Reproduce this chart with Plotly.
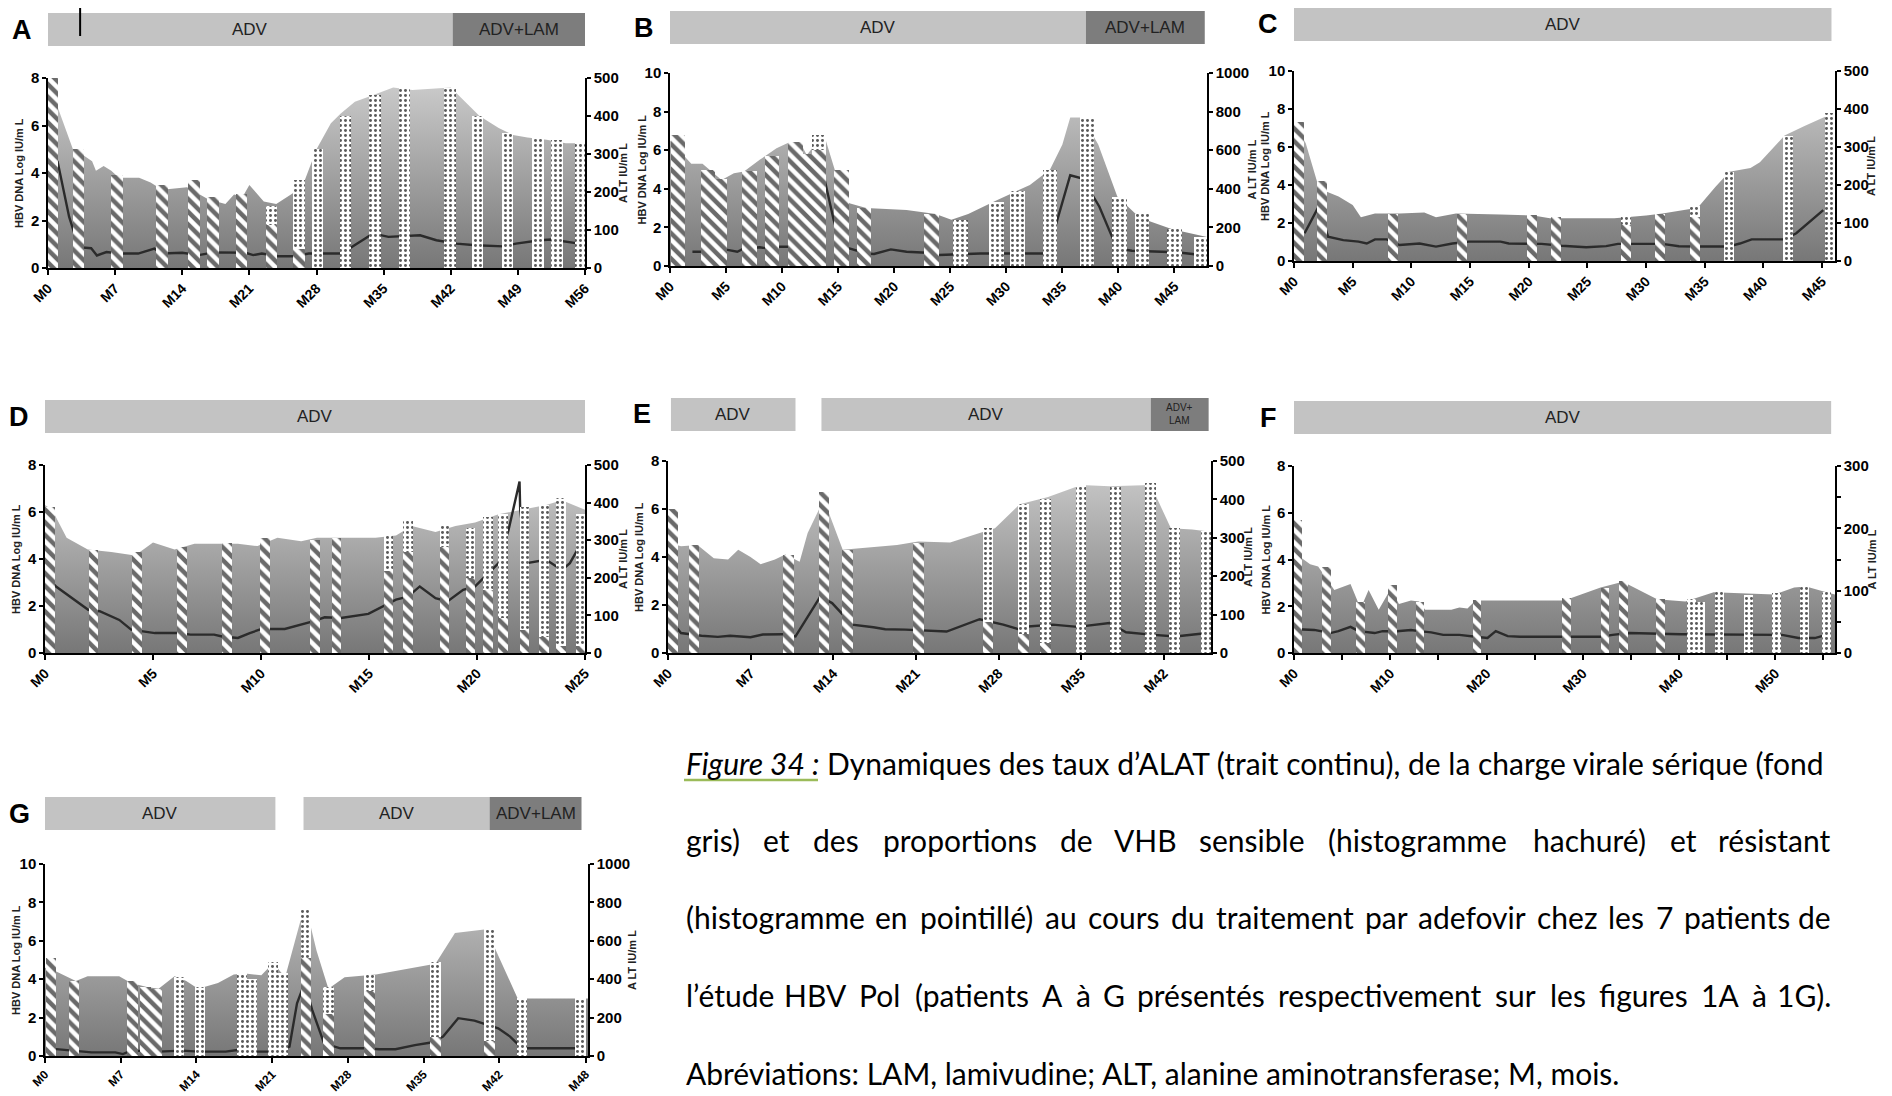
import plotly.graph_objects as go

# the page body keeps an 8 px margin, so the figure is drawn 8 px in from the corner
PAGE_OFF = 8
W, H = 1892 - PAGE_OFF, 1096 - PAGE_OFF

# ---------------- data (months, HBV DNA log IU/mL, ALT IU/mL) ----------------
# Patient A
a_dna_m = [0, 1.2, 2.6, 3.5, 4.6, 5.0, 5.8, 6.6, 7.4, 9.5, 10.7, 11.9, 14.5, 16.7, 18.5, 19.4, 20.3, 21.0, 22.5, 23.8,
           25.0, 26.5, 28.0, 29.5, 30.5, 32.0, 34.0, 36.0, 38.0, 40.0, 42.0, 44.0, 45.0, 47.0, 48.5, 50.0, 52.0, 54.0, 56.0]
a_dna_v = [7.9, 6.6, 5.0, 4.8, 4.5, 4.1, 4.3, 4.1, 3.8, 3.8, 3.6, 3.3, 3.4, 2.9, 2.7, 3.1, 3.0, 3.5, 2.8, 2.7,
           3.0, 3.4, 5.0, 6.1, 6.5, 7.0, 7.3, 7.6, 7.5, 7.55, 7.6, 6.8, 6.4, 5.9, 5.6, 5.5, 5.4, 5.25, 5.25]
a_bar_m = [0.45, 3.2, 7.2, 11.9, 15.2, 17.2, 20.2, 23.3, 26.2, 28.1, 31.0, 34.1, 37.2, 41.9, 44.8, 47.9, 51.1, 53.1, 55.6]
a_bar_s = [8.0, 5.0, 3.9, 3.5, 3.7, 3.0, 3.1, 1.8, 0.8, 0, 0, 0, 0, 0, 0, 0, 0, 0, 0]
a_bar_r = [0, 0, 0, 0, 0, 0, 0, 0.8, 2.9, 5.0, 6.4, 7.3, 7.6, 7.6, 6.4, 5.7, 5.5, 5.4, 5.3]
a_alt_m = [0, 1.0, 2.2, 3.2, 4.5, 5.1, 6.1, 7.4, 9.4, 11.1, 11.9, 14.0, 15.7, 17.3, 20.6, 21.4, 22.3, 24.0, 25.6, 27.2,
           30.6, 32.2, 33.9, 35.5, 38.8, 40.5, 42.6, 44.6, 47.5, 48.8, 51.3, 52.5, 55.4]
a_alt_v = [300, 280, 135, 55, 52, 33, 42, 38, 38, 51, 38, 40, 34, 41, 40, 34, 38, 31, 31, 38,
           38, 64, 91, 82, 86, 73, 64, 60, 57, 64, 73, 75, 64]
a_ticks = [0, 7, 14, 21, 28, 35, 42, 49, 56]
a_tick_text = ["M0", "M7", "M14", "M21", "M28", "M35", "M42", "M49", "M56"]
a_tx = [["ADV", 0, 42.2], ["ADV+LAM", 42.2, 56]]

# Patient B
b_dna_m = [0, 1.9, 2.9, 3.3, 4.6, 5.7, 6.6, 8.0, 9.5, 10.6, 11.7, 12.2, 13.5, 13.9, 14.9, 16.0, 17.5, 21.1, 23.7, 25.1,
           26.6, 29.1, 32.1, 33.9, 35.0, 35.7, 36.8, 38.2, 39.9, 41.9, 44.8, 47.9]
b_dna_v = [6.5, 5.3, 5.3, 5.1, 4.45, 4.8, 4.9, 5.5, 6.1, 6.4, 6.3, 5.75, 6.7, 6.5, 4.6, 3.25, 3.0, 2.9, 2.7, 2.4,
           2.7, 3.4, 4.2, 5.0, 6.3, 7.7, 7.7, 6.3, 3.6, 2.5, 1.9, 1.5]
b_bar_m = [0.7, 3.4, 4.4, 7.1, 9.1, 11.2, 12.3, 13.3, 15.3, 17.3, 23.3, 25.9, 29.1, 31.0, 33.9, 37.2, 40.1, 42.1, 45.0, 47.4]
b_bar_s = [6.8, 5.0, 4.5, 4.9, 5.7, 6.4, 5.8, 6.0, 5.0, 3.0, 2.7, 0, 0, 0, 0, 0, 0, 0, 0, 0]
b_bar_r = [0, 0, 0, 0, 0, 0, 0, 0.8, 0, 0, 0, 2.4, 3.3, 3.9, 5.0, 7.7, 3.6, 2.7, 1.9, 1.5]
b_alt_m = [2.0, 3.3, 4.9, 6.0, 6.6, 8.0, 8.7, 9.8, 10.7, 11.7, 13.1, 13.8, 14.6, 15.3, 16.0, 17.5, 18.2, 19.7, 21.1, 22.9,
           24.0, 25.9, 27.7, 29.5, 31.7, 33.5, 34.2, 35.7, 36.8, 38.3, 39.3, 39.9, 41.2, 43.0, 45.2, 46.6, 47.7]
b_alt_v = [74, 74, 86, 74, 91, 97, 91, 100, 100, 110, 117, 445, 238, 100, 91, 65, 62, 86, 74, 69,
           57, 62, 65, 65, 65, 65, 169, 470, 453, 307, 169, 91, 79, 74, 71, 62, 52]
b_ticks = [0, 5, 10, 15, 20, 25, 30, 35, 40, 45]
b_tick_text = ["M0", "M5", "M10", "M15", "M20", "M25", "M30", "M35", "M40", "M45"]
b_tx = [["ADV", 0, 37.1], ["ADV+LAM", 37.1, 47.7]]

# Patient C
c_dna_m = [0, 1.0, 2.1, 2.8, 3.8, 5.0, 5.7, 6.9, 9.0, 11.1, 12.1, 13.8, 17.6, 20.4, 21.8, 27.3, 30.0, 31.4, 34.4, 35.9,
           37.1, 38.9, 39.7, 41.8, 43.5, 45.3, 46.1]
c_dna_v = [7.3, 6.2, 3.9, 3.65, 3.4, 2.95, 2.3, 2.5, 2.5, 2.55, 2.3, 2.5, 2.45, 2.4, 2.25, 2.25, 2.4, 2.5, 2.8, 3.9,
           4.7, 4.9, 5.2, 6.6, 7.1, 7.6, 7.7]
c_bar_m = [0.4, 2.4, 8.4, 14.3, 20.3, 22.3, 28.3, 31.2, 34.2, 37.1, 42.1, 45.7]
c_bar_s = [7.3, 4.2, 2.5, 2.5, 2.4, 2.3, 1.9, 2.5, 2.3, 0, 0, 0]
c_bar_r = [0, 0, 0, 0, 0, 0, 0.5, 0, 0.6, 4.7, 6.6, 7.8]
c_alt_m = [0.9, 2.1, 2.9, 4.2, 5.5, 6.2, 6.9, 7.9, 9.0, 10.7, 12.1, 13.5, 14.9, 17.6, 18.3, 21.1, 22.8, 24.9, 26.6, 27.6,
           31.4, 32.8, 34.2, 37.0, 38.0, 39.0, 41.8, 42.8, 45.1]
c_alt_v = [73, 143, 64, 55, 51, 46, 57, 57, 42, 46, 38, 46, 51, 51, 46, 45, 40, 36, 39, 45,
           45, 39, 38, 38, 46, 57, 57, 73, 134]
c_ticks = [0, 5, 10, 15, 20, 25, 30, 35, 40, 45]
c_tick_text = ["M0", "M5", "M10", "M15", "M20", "M25", "M30", "M35", "M40", "M45"]
c_tx = [["ADV", 0, 45.8]]

# Patient D
d_dna_m = [0, 0.33, 1.0, 1.98, 3.07, 4.17, 5.0, 6.0, 6.92, 7.83, 8.93, 9.84, 10.76, 11.86, 12.59, 15.3, 16.25, 16.98,
           18.08, 19.0, 19.91, 21.0, 22.1, 23.2, 23.93, 24.48, 25.0]
d_dna_v = [6.3, 6.1, 4.9, 4.4, 4.3, 4.15, 4.7, 4.4, 4.65, 4.65, 4.65, 4.55, 4.9, 4.75, 4.9, 4.9, 5.0, 5.4,
           5.15, 5.4, 5.55, 5.9, 6.1, 6.3, 6.5, 6.3, 6.1]
d_bar_m = [0.24, 2.25, 4.26, 6.33, 8.42, 10.2, 12.5, 13.5, 15.9, 16.8, 18.5, 19.7, 20.5, 21.2, 22.2, 23.1, 23.9, 24.8]
d_bar_s = [6.2, 4.4, 4.3, 4.5, 4.7, 4.9, 4.8, 4.9, 3.5, 4.3, 4.5, 3.2, 2.7, 1.5, 1.0, 0.7, 0.3, 0.3]
d_bar_r = [0, 0, 0, 0, 0, 0, 0, 0, 1.5, 1.4, 0.9, 2.1, 3.1, 4.4, 5.2, 5.6, 6.3, 5.6]
d_alt_m = [0, 0.51, 2.0, 2.53, 3.44, 3.99, 5.09, 6.18, 6.73, 7.83, 8.2, 8.93, 9.48, 10.03, 11.1, 12.4, 12.95, 13.7,
           14.97, 15.5, 16.25, 16.8, 17.35, 18.08, 18.63, 19.36, 19.91, 21.0, 21.46, 21.97, 22.0, 22.3, 23.2, 23.93,
           24.3, 25.0]
d_alt_v = [204, 177, 115, 111, 88, 62, 53, 53, 49, 49, 44, 40, 53, 64, 64, 84, 95, 93,
           104, 119, 142, 150, 177, 146, 137, 168, 177, 239, 327, 456, 380, 239, 248, 221,
           239, 310]
d_ticks = [0, 5, 10, 15, 20, 25]
d_tick_text = ["M0", "M5", "M10", "M15", "M20", "M25"]
d_tx = [["ADV", 0, 25]]

# Patient E
e_dna_m = [0, 1.1, 2.5, 3.88, 5.09, 5.95, 6.99, 7.85, 9.06, 9.93, 11.15, 11.83, 13.2, 14.8, 16.0, 19.4, 21.2, 23.9,
           26.4, 27.7, 29.8, 32.2, 35.0, 37.4, 40.9, 42.6, 44.4, 46.0]
e_dna_v = [4.6, 4.45, 4.5, 3.95, 3.9, 4.3, 4.0, 3.7, 3.9, 4.1, 3.8, 5.0, 6.4, 4.3, 4.35, 4.5, 4.65, 4.6,
           5.0, 5.2, 6.2, 6.5, 7.0, 6.95, 7.0, 5.2, 5.15, 5.05]
e_bar_m = [0.4, 2.2, 10.2, 13.2, 15.2, 21.2, 27.1, 30.1, 32.0, 35.0, 37.9, 40.9, 42.9, 45.6]
e_bar_s = [6.0, 4.5, 4.1, 6.7, 4.3, 4.6, 1.3, 0.8, 0.4, 0, 0, 0, 0, 0]
e_bar_r = [0, 0, 0, 0, 0, 0, 3.9, 5.4, 6.0, 7.0, 6.9, 7.1, 5.2, 5.1]
e_alt_m = [0.42, 1.1, 2.84, 4.22, 5.26, 6.99, 8.03, 9.76, 10.8, 12.9, 13.9, 15.6, 17.4, 18.4, 20.1, 23.6, 26.4, 28.4,
           29.8, 30.5, 32.6, 34.7, 37.4, 38.8, 40.9, 42.98, 45.7]
e_alt_v = [78, 52, 45, 42, 45, 41, 48, 49, 43, 147, 130, 74, 67, 62, 61, 56, 88, 74,
           61, 69, 74, 68, 78, 54, 48, 43, 52]
e_ticks = [0, 7, 14, 21, 28, 35, 42]
e_tick_text = ["M0", "M7", "M14", "M21", "M28", "M35", "M42"]
e_tx = [["ADV", 0.25, 10.8], ["ADV", 13.0, 40.9], ["ADV+<br>LAM", 40.9, 45.8]]

# Patient F
f_dna_m = [0, 1.68, 2.51, 4.19, 5.87, 6.92, 7.75, 8.8, 10.06, 10.9, 12.15, 12.99, 13.62, 16.34, 17.18, 18.02, 18.86,
           28.08, 31.85, 34.16, 37.72, 40.65, 43.6, 46.5, 49.9, 51.96, 53.2, 55.3, 56.2]
f_dna_v = [4.3, 3.8, 3.7, 2.7, 2.95, 1.9, 2.7, 1.85, 2.75, 2.1, 2.25, 2.2, 1.85, 1.85, 1.95, 1.9, 2.25,
           2.25, 2.8, 3.05, 2.3, 2.2, 2.6, 2.55, 2.5, 2.8, 2.85, 2.6, 2.5]
f_bar_m = [0.4, 3.4, 6.9, 10.2, 13.1, 19.0, 28.3, 32.3, 34.2, 38.1, 41.3, 42.2, 44.2, 47.2, 50.1, 53.0, 55.3]
f_bar_s = [5.7, 3.7, 2.2, 2.9, 2.2, 2.25, 2.35, 2.8, 3.1, 2.3, 0, 0, 0, 0, 0, 0, 0]
f_bar_r = [0, 0, 0, 0, 0, 0, 0, 0, 0, 0, 2.3, 2.2, 2.7, 2.5, 2.55, 2.9, 2.6]
f_alt_m = [0.42, 2.1, 3.77, 4.61, 5.87, 6.71, 8.38, 9.22, 10.69, 12.15, 12.99, 14.25, 15.5, 17.18, 18.86, 20.1, 20.96,
           22.2, 23.5, 25.6, 27.2, 29.8, 31.85, 33.1, 34.8, 40.2, 50.7, 52.4, 54.1, 55.3]
f_alt_v = [38, 37, 32, 35, 42, 35, 32, 35, 35, 37, 35, 33, 29, 29, 26, 24, 35,
           27, 26, 26, 27, 26, 26, 29, 32, 30, 29, 24, 24, 29]
f_ticks = [0, 5, 10, 15, 20, 25, 30, 35, 40, 45, 50, 55]
f_tick_text = ["M0", "", "M10", "", "M20", "", "M30", "", "M40", "", "M50", ""]
f_tx = [["ADV", 0, 55.8]]

# Patient G
g_dna_m = [0, 0.66, 2.85, 3.94, 6.86, 7.96, 9.42, 10.5, 11.97, 13.06, 14.16, 15.99, 17.45, 18.5, 20.0, 21.1, 22.2,
           23.6, 24.2, 25.1, 26.2, 27.7, 30.6, 34.2, 36.1, 37.9, 40.8, 43.7, 50.2]
g_dna_v = [4.6, 4.5, 3.9, 4.15, 4.15, 3.8, 3.6, 3.5, 4.15, 3.9, 3.5, 3.8, 4.25, 4.3, 4.2, 4.85, 4.1,
           7.0, 7.6, 5.5, 3.5, 4.1, 4.25, 4.6, 4.8, 6.4, 6.6, 3.0, 3.0]
g_bar_m = [0.55, 2.7, 8.1, 9.3, 10.3, 12.4, 14.3, 18.2, 19.1, 21.1, 22.0, 24.1, 26.2, 30.0, 36.1, 41.1, 44.1, 49.5]
g_bar_s = [5.1, 3.9, 3.9, 3.6, 3.5, 0, 0, 0, 0, 0, 0, 5.1, 2.2, 3.4, 1.0, 0.8, 0, 0]
g_bar_r = [0, 0, 0, 0, 0, 4.1, 3.6, 4.3, 4.0, 4.9, 4.3, 2.5, 1.4, 0.8, 3.9, 5.8, 3.0, 3.0]
g_alt_m = [0.29, 2.1, 4.3, 6.5, 7.2, 7.96, 10.5, 12.7, 14.2, 16.7, 17.8, 19.6, 21.5, 22.6, 23.3, 24.0, 24.7, 25.8,
           27.3, 29.5, 30.9, 32.4, 34.2, 35.7, 36.8, 38.2, 39.7, 41.9, 43.0, 44.1, 49.9]
g_alt_v = [40, 31, 19, 19, 10, 28, 23, 28, 23, 23, 31, 23, 23, 49, 275, 379, 240, 66,
           40, 40, 35, 35, 57, 70, 101, 197, 184, 144, 101, 40, 40]
g_ticks = [0, 7, 14, 21, 28, 35, 42, 50]
g_tick_text = ["M0", "M7", "M14", "M21", "M28", "M35", "M42", "M48"]
g_tx = [["ADV", 0, 21.3], ["ADV", 23.9, 41.1], ["ADV+LAM", 41.1, 49.6]]

caption_lines = [
    "<i>Figure 34 :</i> Dynamiques des taux d’ALAT (trait continu), de la charge virale sérique (fond",
    "gris) et des proportions de VHB sensible (histogramme hachuré) et résistant",
    "(histogramme en pointillé) au cours du traitement par adefovir chez les 7 patients de",
    "l’étude HBV Pol (patients A à G présentés respectivement sur les figures 1A à 1G).",
    "Abréviations: LAM, lamivudine; ALT, alanine aminotransferase; M, mois.",
]

# ---------------- layout per panel (pixel boxes of the plot areas, page coordinates) ----------------
panels = [
    dict(key="A", box=(48, 585, 78, 268), xmax=56, ymax=8, altmax=500, altdtick=100, bw=1.2, off=32, rt=38,
         dna=(a_dna_m, a_dna_v), bars=(a_bar_m, a_bar_s, a_bar_r), alt=(a_alt_m, a_alt_v),
         ticks=(a_ticks, a_tick_text), tx=a_tx),
    dict(key="B", box=(670, 1207, 73, 266), xmax=47.9, ymax=10, altmax=1000, altdtick=200, bw=1.3, off=29, rt=44,
         dna=(b_dna_m, b_dna_v), bars=(b_bar_m, b_bar_s, b_bar_r), alt=(b_alt_m, b_alt_v),
         ticks=(b_ticks, b_tick_text), tx=b_tx),
    dict(key="C", box=(1294, 1835, 71, 261), xmax=46.1, ymax=10, altmax=500, altdtick=100, bw=0.85, off=30, rt=36,
         dna=(c_dna_m, c_dna_v), bars=(c_bar_m, c_bar_s, c_bar_r), alt=(c_alt_m, c_alt_v),
         ticks=(c_ticks, c_tick_text), tx=c_tx),
    dict(key="D", box=(45, 585, 465, 653), xmax=25, ymax=8, altmax=500, altdtick=100, bw=0.45, off=32, rt=38,
         dna=(d_dna_m, d_dna_v), bars=(d_bar_m, d_bar_s, d_bar_r), alt=(d_alt_m, d_alt_v),
         ticks=(d_ticks, d_tick_text), tx=d_tx),
    dict(key="E", box=(668, 1211, 461, 653), xmax=46, ymax=8, altmax=500, altdtick=100, bw=0.9, off=30, rt=37,
         dna=(e_dna_m, e_dna_v), bars=(e_bar_m, e_bar_s, e_bar_r), alt=(e_alt_m, e_alt_v),
         ticks=(e_ticks, e_tick_text), tx=e_tx),
    dict(key="F", box=(1294, 1835, 466, 653), xmax=56.2, ymax=8, altmax=300, altdtick=100, bw=0.9, off=32, rt=36,
         dna=(f_dna_m, f_dna_v), bars=(f_bar_m, f_bar_s, f_bar_r), alt=(f_alt_m, f_alt_v),
         ticks=(f_ticks, f_tick_text), tx=f_tx),
    dict(key="G", box=(45, 588, 864, 1056), xmax=50.2, ymax=10, altmax=1000, altdtick=200, bw=0.95, off=34, rt=44,
         dna=(g_dna_m, g_dna_v), bars=(g_bar_m, g_bar_s, g_bar_r), alt=(g_alt_m, g_alt_v),
         ticks=(g_ticks, g_tick_text), tx=g_tx),
]

NARROW = "Liberation Sans Narrow, Liberation Sans, Arial, sans-serif"
ARIAL = "Liberation Sans, Arial, sans-serif"


def fx(px):
    return (px - PAGE_OFF) / W


def fy(py):
    return 1 - (py - PAGE_OFF) / H


def ax_name(kind, i):
    return kind if i == 1 else f"{kind}{i}"


fig = go.Figure()
layout = {}
shapes = []
annotations = []
title_font = dict(family=ARIAL, size=11, color="#222", weight="bold")

for k, p in enumerate(panels):
    x0, x1, ytop, ybot = p["box"]
    xi = k + 1
    yb = 3 * k + 1
    xn = ax_name("x", xi)
    yn_base, yn_alt, yn_bar = ax_name("y", yb), ax_name("y", yb + 1), ax_name("y", yb + 2)

    # viral load area with vertical grey gradient
    fig.add_trace(go.Scatter(
        x=p["dna"][0], y=p["dna"][1], mode="lines", fill="tozeroy",
        line=dict(width=0, color="#8a8a8a"),
        fillgradient=dict(type="vertical", start=0, stop=p["ymax"],
                          colorscale=[[0, "#777777"], [1, "#cdcdcd"]]),
        xaxis=xn, yaxis=yn_base, showlegend=False, hoverinfo="skip"))

    # ALT line (right axis)
    fig.add_trace(go.Scatter(
        x=p["alt"][0], y=p["alt"][1], mode="lines",
        line=dict(color="#2b2b2b", width=2.4),
        xaxis=xn, yaxis=yn_alt, showlegend=False))

    # stacked bars: sensitive (hatched) + resistant (dotted)
    bm, bs, br = p["bars"]
    fig.add_trace(go.Bar(
        x=bm, y=bs, width=p["bw"], xaxis=xn, yaxis=yn_bar, showlegend=False,
        marker=dict(color="#6a6a6a", line=dict(width=0),
                    pattern=dict(shape="\\", fgcolor="white", bgcolor="#6a6a6a",
                                 size=9, solidity=0.5, fillmode="replace"))))
    fig.add_trace(go.Bar(
        x=bm, y=br, width=p["bw"], xaxis=xn, yaxis=yn_bar, showlegend=False,
        marker=dict(color="white", line=dict(width=0),
                    pattern=dict(shape=".", fgcolor="#5a5a5a", bgcolor="white",
                                 size=5, solidity=0.28, fillmode="replace"))))

    ydom = [fy(ybot), fy(ytop)]
    tickfont = dict(family=NARROW, size=15, color="black", weight="bold")
    xfont_size = 12 if p["key"] == "G" else 14
    layout[ax_name("xaxis", xi)] = dict(
        domain=[fx(x0), fx(x1)], anchor=yn_base, range=[0, p["xmax"]], automargin=False,
        tickvals=p["ticks"][0], ticktext=p["ticks"][1], tickangle=-45,
        tickfont=dict(family=NARROW, size=xfont_size, color="black", weight="bold"),
        ticks="outside", ticklen=5, tickwidth=1.5, tickcolor="black",
        showline=True, linecolor="black", linewidth=1.5, showgrid=False, zeroline=False)
    layout[ax_name("yaxis", yb)] = dict(
        domain=ydom, anchor=xn, range=[0, p["ymax"]], dtick=2, side="left", automargin=False,
        tickfont=tickfont, ticks="outside", ticklen=4, tickwidth=1.5, tickcolor="black",
        showline=True, linecolor="black", linewidth=1.5, showgrid=False, zeroline=False)
    alt_ax = dict(
        overlaying=yn_base, anchor=xn, side="right", range=[0, p["altmax"]], dtick=p["altdtick"],
        automargin=False,
        tickfont=tickfont, ticks="outside", ticklen=4, tickwidth=1.5, tickcolor="black",
        showline=True, linecolor="black", linewidth=1.5, showgrid=False, zeroline=False)
    if p["key"] == "F":
        alt_ax["minor"] = dict(dtick=50, ticks="outside", ticklen=4, tickcolor="black")
    layout[ax_name("yaxis", yb + 1)] = alt_ax
    layout[ax_name("yaxis", yb + 2)] = dict(
        overlaying=yn_base, anchor=xn, range=[0, p["ymax"]], visible=False, automargin=False)

    # axis titles (rotated, placed like the original)
    ymid = fy((ytop + ybot) / 2)
    annotations.append(dict(x=fx(x0 - 29), y=ymid, xref="paper", yref="paper", text="HBV DNA Log IU/m L",
                            textangle=-90, showarrow=False, xanchor="center", yanchor="middle", font=title_font))
    annotations.append(dict(x=fx(x1 + p["rt"]), y=ymid, xref="paper", yref="paper", text="A LT IU/m L",
                            textangle=-90, showarrow=False, xanchor="center", yanchor="middle", font=title_font))

    # treatment bars above the panel
    by0 = fy(ytop - p["off"])
    by1 = fy(ytop - p["off"] - 33)
    for label, s, e in p["tx"]:
        dark = "LAM" in label
        shapes.append(dict(type="rect", xref=xn, yref="paper", x0=s, x1=e, y0=by0, y1=by1,
                           fillcolor="#7d7d7d" if dark else "#c3c3c3", line=dict(width=0), layer="above"))
        annotations.append(dict(
            x=(s + e) / 2, y=(by0 + by1) / 2, xref=xn, yref="paper", text=label, showarrow=False,
            xanchor="center", yanchor="middle",
            font=dict(family=NARROW, size=10 if "<br>" in label else 17, color="#222")))

    # panel letter
    annotations.append(dict(x=fx(x0 - 26), y=(by0 + by1) / 2, xref="paper", yref="paper",
                            text=f"<b>{p['key']}</b>", showarrow=False, xanchor="center", yanchor="middle",
                            font=dict(family=ARIAL, size=27, color="black")))

# small marker line in the treatment bar of panel A
shapes.append(dict(type="line", xref="x", yref="paper", x0=3.35, x1=3.35, y0=fy(36), y1=fy(5),
                   line=dict(color="black", width=2)))

# ---------------- caption (lines 2-4 justified word by word) ----------------
CW = {' ': 0.193, 'a': 0.49, 'b': 0.56, 'c': 0.46, 'd': 0.56, 'e': 0.52, 'f': 0.32, 'g': 0.51, 'h': 0.56,
      'i': 0.24, 'j': 0.24, 'k': 0.5, 'l': 0.24, 'm': 0.84, 'n': 0.56, 'o': 0.56, 'p': 0.56, 'q': 0.56,
      'r': 0.37, 's': 0.43, 't': 0.35, 'u': 0.56, 'v': 0.5, 'w': 0.76, 'x': 0.49, 'y': 0.5, 'z': 0.45,
      'é': 0.52, 'à': 0.49, 'I': 0.28, 'L': 0.5, 'M': 0.82, '’': 0.2, '(': 0.3, ')': 0.3, ',': 0.22,
      '.': 0.22, ':': 0.22, ';': 0.22}
CAP_SIZE = 30
cap_left, cap_right = 684, 1833
cap_y = [763, 840, 917, 995, 1073]


def text_w(t):
    return sum(CW.get(ch, 0.58 if ch.isdigit() else 0.64) for ch in t) * CAP_SIZE


cap_font = dict(family="Lato, Open Sans, sans-serif", size=CAP_SIZE, color="black")
for li, line in enumerate(caption_lines):
    if li in (0, len(caption_lines) - 1):
        annotations.append(dict(x=fx(cap_left), y=fy(cap_y[li]), xref="paper", yref="paper",
                                xanchor="left", yanchor="middle", text=line, showarrow=False, font=cap_font))
        continue
    words = line.split(" ")
    widths = [text_w(w) for w in words]
    gap = (cap_right - cap_left - sum(widths)) / (len(words) - 1)
    pos = cap_left
    for wi, (wd, ww) in enumerate(zip(words, widths)):
        if wi == 0:
            xa, xp = "left", pos
        elif wi == len(words) - 1:
            xa, xp = "right", cap_right
        else:
            xa, xp = "center", pos + ww / 2
        annotations.append(dict(x=fx(xp), y=fy(cap_y[li]), xref="paper", yref="paper",
                                xanchor=xa, yanchor="middle", text=wd, showarrow=False, font=cap_font))
        pos += ww + gap

shapes.append(dict(type="line", xref="paper", yref="paper", x0=fx(684), x1=fx(818), y0=fy(780), y1=fy(780),
                   line=dict(color="#9bbb59", width=2.5)))

fig.update_layout(
    width=W, height=H, margin=dict(l=0, r=0, t=0, b=0),
    paper_bgcolor="white", plot_bgcolor="rgba(0,0,0,0)",
    barmode="stack", showlegend=False,
    shapes=shapes, annotations=annotations, **layout)

fig.write_html("out.html")
